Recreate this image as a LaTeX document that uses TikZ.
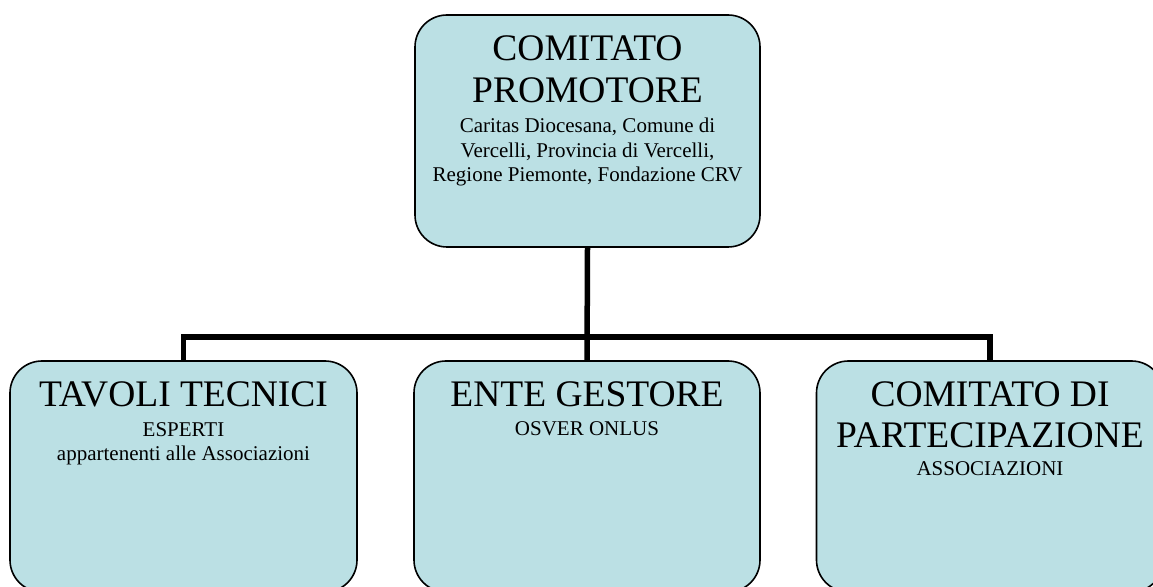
\documentclass[tikz,border=0pt]{standalone}
\usepackage{fontspec}
\setmainfont{Liberation Serif}
\usetikzlibrary{positioning}
\definecolor{boxblue}{RGB}{187,224,228}

\begin{document}
\begin{tikzpicture}[x=1pt,y=1pt,node distance=15pt,
  box/.style={draw,line width=1.6pt,fill=boxblue,rounded corners=32pt,inner sep=0pt,
    minimum width=346pt,minimum height=231pt},
  title/.style={anchor=north,align=center,inner sep=0pt,font=\fontsize{37.5}{41.5}\selectfont},
  sub/.style={align=center,inner sep=0pt,font=\fontsize{21}{24.5}\selectfont},
  link/.style={line width=5.5pt}]
  \useasboundingbox (0,0) rectangle (1153,586);

  % boxes
  \node[box,minimum width=345pt,minimum height=232pt] (promotore) at (587.5,455) {};
  \node[box,minimum width=347pt] (tavoli) at (183.5,109.5) {};
  \node[box] (ente) at (587,109.5) {};
  \node[box,minimum width=347pt] (partecipazione) at (990,109.5) {};

  % texts
  \node[title] (promotore title) at ([yshift=-21.5pt]promotore.north) {COMITATO\\PROMOTORE};
  \node[sub,below=of promotore title] (promotore sub) {Caritas Diocesana, Comune di\\Vercelli, Provincia di Vercelli,\\Regione Piemonte, Fondazione CRV};
  \node[title] (tavoli title) at ([yshift=-21pt]tavoli.north) {TAVOLI TECNICI};
  \node[sub,below=of tavoli title] (tavoli sub) {ESPERTI\\appartenenti alle Associazioni};
  \node[title] (ente title) at ([yshift=-21pt]ente.north) {ENTE GESTORE};
  \node[sub,below=of ente title] (ente sub) {OSVER ONLUS};
  \node[title] (partecipazione title) at ([yshift=-21pt]partecipazione.north) {COMITATO DI\\PARTECIPAZIONE};
  \node[sub,below=13pt of partecipazione title] (partecipazione sub) {ASSOCIAZIONI};

  % connectors
  \coordinate (junction) at (587,249);
  \draw[link] (promotore.south) -- (ente.north);
  \draw[link] (tavoli.north) |- (junction) -| (partecipazione.north);
\end{tikzpicture}
\end{document}
